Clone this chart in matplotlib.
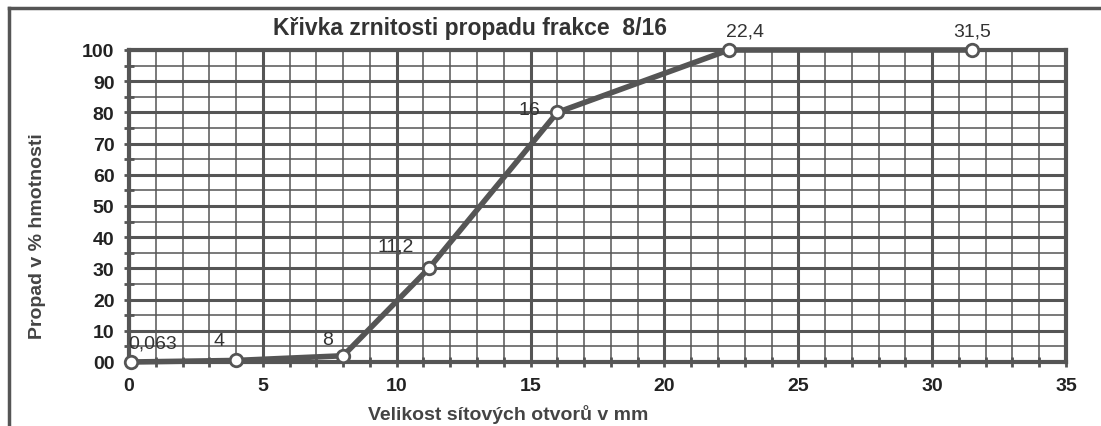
import numpy as np
import matplotlib.pyplot as plt
from matplotlib.lines import Line2D

plt.rcParams['font.family'] = ['Liberation Sans', 'DejaVu Sans']

# sieve sizes (mm) and passing (%)
sieve = [0.063, 4, 8, 11.2, 16, 22.4, 31.5]
passing = [0, 0.5, 2, 30, 80, 100, 100]
point_labels = ['0,063', '4', '8', '11,2', '16', '22,4', '31,5']
# label offsets in points (dx, dy)
label_offsets = [(-2, 14), (-12, 14), (-11, 12), (-24, 16), (-20, 2), (12, 14), (0, 14)]

x_ticks = [0, 5, 10, 15, 20, 25, 30, 35]
y_ticks = [0, 10, 20, 30, 40, 50, 60, 70, 80, 90, 100]
y_ticklabels = ['00', '10', '20', '30', '40', '50', '60', '70', '80', '90', '100']

gray = '#555555'
W, H = 1101, 427

fig = plt.figure(figsize=(W / 100, H / 100), dpi=100)
ax = fig.add_axes([129 / W, 1 - 363 / H, (1066 - 129) / W, (363 - 51) / H])

ax.set_xlim(0, 35)
ax.set_ylim(0, 100)

# grid
ax.set_xticks(x_ticks)
ax.set_xticks(np.arange(0, 36, 1), minor=True)
ax.set_yticks(y_ticks)
ax.set_yticks(np.arange(0, 101, 5), minor=True)
ax.grid(which='major', color=gray, lw=2.2)
ax.grid(which='minor', color=gray, lw=1.1)
ax.set_axisbelow(True)

ax.set_xticklabels([str(t) for t in x_ticks])
ax.set_yticklabels(y_ticklabels)
ax.tick_params(which='both', direction='inout', color=gray, width=2, length=7)
ax.tick_params(axis='both', which='major', labelsize=14, labelcolor='#222222', pad=7)
for lab in ax.get_xticklabels() + ax.get_yticklabels():
    lab.set_fontweight('bold')

for sp in ax.spines.values():
    sp.set_color(gray)
    sp.set_linewidth(3)

ax.plot(sieve, passing, color=gray, lw=4, marker='o', ms=9,
        mfc='white', mec=gray, mew=2, clip_on=False, zorder=5)

for x, y, t, (dx, dy) in zip(sieve, passing, point_labels, label_offsets):
    ax.annotate(t, (x, y), xytext=(dx, dy), textcoords='offset points',
                ha='left' if t == '0,063' else 'center', va='center',
                fontsize=14, color='#333333', zorder=6)

fig.text(470 / W, 1 - 28 / H, 'Křivka zrnitosti propadu frakce  8/16', fontsize=16.5,
         fontweight='bold', color='#333333', ha='center', va='center')
fig.text(508 / W, 1 - 415 / H, 'Velikost sítových otvorů v mm', fontsize=14,
         fontweight='bold', color='#444444', ha='center', va='center')
fig.text(38 / W, 1 - 236 / H, 'Propad v % hmotnosti', fontsize=14, rotation=90,
         fontweight='bold', color='#444444', ha='center', va='center')

# outer frame of the scanned chart
fig.add_artist(Line2D([9 / W, 9 / W], [0, 1 - 9 / H], color=gray, lw=2.5,
                      transform=fig.transFigure))
fig.add_artist(Line2D([9 / W, 1], [1 - 9 / H, 1 - 9 / H], color=gray, lw=2.5,
                      transform=fig.transFigure))

fig.savefig('out.png', dpi=100)
